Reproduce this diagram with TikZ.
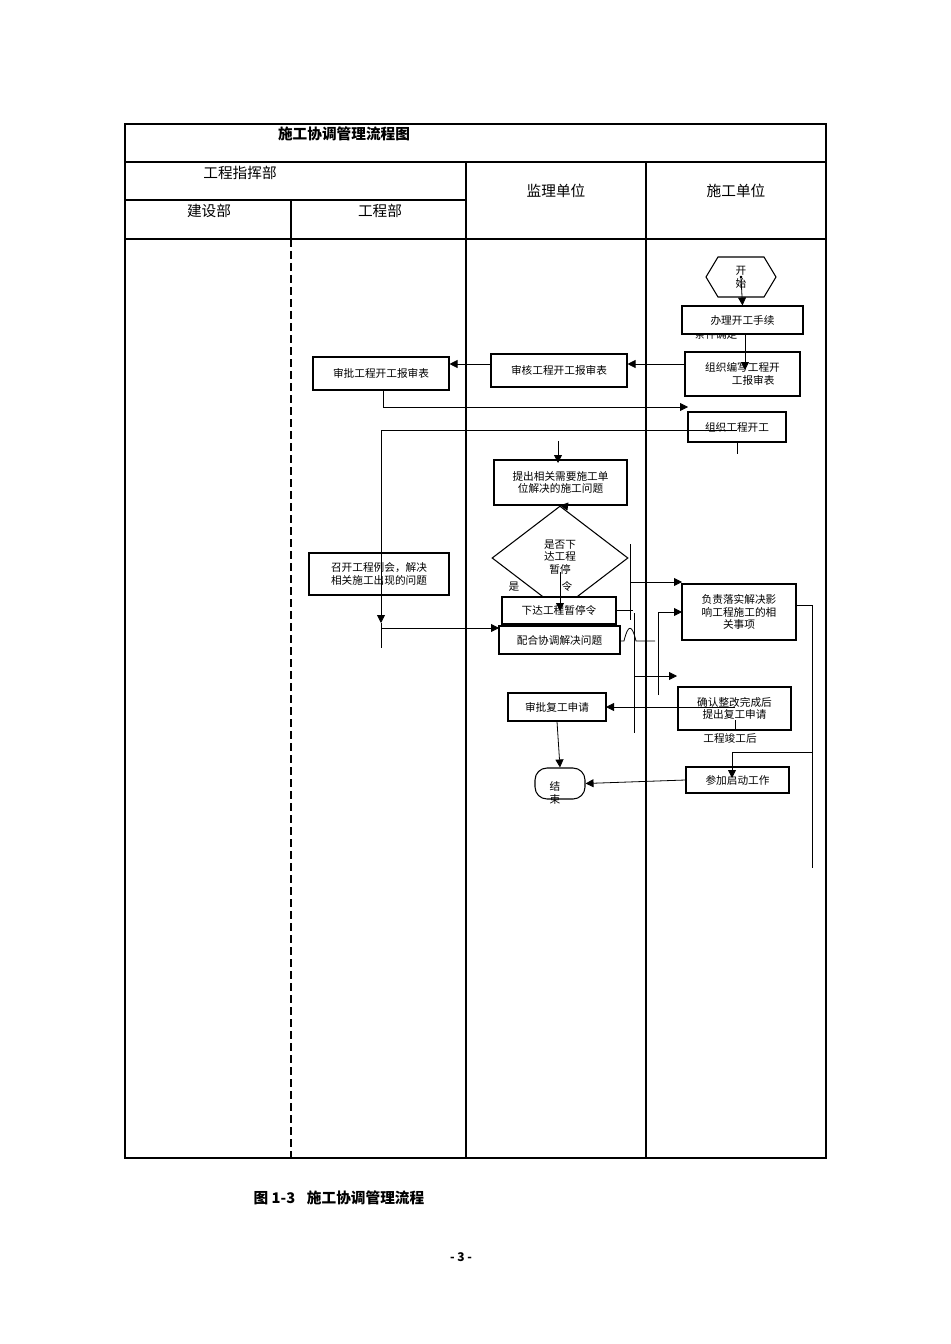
\documentclass[tikz,border=0pt]{standalone}
\usepackage{fontspec}
\setmainfont{Noto Sans CJK SC}
\usetikzlibrary{shapes.geometric,arrows.meta}
\begin{document}
\begin{tikzpicture}[x=0.75pt,y=-0.75pt,
  box/.style={draw,thick,fill=white,inner sep=0pt,font=\fontsize{8}{9.5}\selectfont,align=center},
  lab/.style={font=\fontsize{8}{9.5}\selectfont,inner sep=0pt},
  hdr/.style={font=\fontsize{11}{13}\selectfont,inner sep=0pt},
  ar/.style={-{Triangle[length=6pt,width=6pt]}},
  ln/.style={line width=0.6pt}]
\useasboundingbox (0,0) rectangle (950,1344);
% table
\draw[line width=1.4pt] (125,124) rectangle (826,1158);
\draw[line width=1.2pt] (125,162) -- (826,162);
\draw[line width=1.2pt] (125,200) -- (466,200);
\draw[line width=1.2pt] (125,239) -- (826,239);
\draw[line width=1.2pt] (466,162) -- (466,1158);
\draw[line width=1.2pt] (646,162) -- (646,1158);
\draw[line width=1.2pt] (291,200) -- (291,239);
\draw[line width=1.2pt,dash pattern=on 6pt off 3pt] (291,239) -- (291,1158);
\node[hdr,font=\fontsize{11}{13}\selectfont\bfseries] (title) at (344,134) {施工协调管理流程图};
\node[hdr] (h1) at (240,173) {工程指挥部};
\node[hdr] (h2) at (209,211) {建设部};
\node[hdr] (h3) at (380,211) {工程部};
\node[hdr] (h4) at (556,191) {监理单位};
\node[hdr] (h5) at (736,191) {施工单位};
% nodes
\node[lab] (cond) at (716,334) {条件确定};
\node[draw,thick,regular polygon,regular polygon sides=6,shape border rotate=0,minimum width=0pt,inner sep=0pt,
  font=\fontsize{8}{9.5}\selectfont,align=center, shape aspect=1] (start) at (741,277) {};
\draw[thick] (706,277) -- (718,257) -- (764,257) -- (776,277) -- (764,297) -- (718,297) -- cycle;
\node[lab,align=center] (starttxt) at (741,277) {开\\始};
\node[box,minimum width=121*0.75pt,minimum height=28*0.75pt] (a1) at (742.5,320) {办理开工手续};
\node[box,minimum width=115*0.75pt,minimum height=44*0.75pt] (a2) at (742.5,374) {组织编写工程开\\\hspace*{2em}工报审表};
\node[box,minimum width=136*0.75pt,minimum height=33*0.75pt] (b1) at (559,370.5) {审核工程开工报审表};
\node[box,minimum width=136*0.75pt,minimum height=33*0.75pt] (c1) at (381,373.5) {审批工程开工报审表};
\node[box,minimum width=98*0.75pt,minimum height=30*0.75pt] (a3) at (737,427) {组织工程开工};
\node[box,minimum width=133*0.75pt,minimum height=45*0.75pt] (b2) at (560.5,482.5) {提出相关需要施工单\\位解决的施工问题};
\node[draw,thick,diamond,minimum width=136*0.75pt,minimum height=104*0.75pt,inner sep=0pt,aspect=1.3] (d) at (560,558) {};
\node[lab,align=center] (dt) at (560,557) {是否下\\达工程\\暂停};
\node[lab] (dl) at (567,586) {令};
\node[lab] (yes) at (514,587) {是};
\node[box,minimum width=114*0.75pt,minimum height=27*0.75pt] (b3) at (559,610.5) {下达工程暂停令};
\node[box,minimum width=121*0.75pt,minimum height=28*0.75pt] (b4) at (559.5,640) {配合协调解决问题};
\node[box,minimum width=140*0.75pt,minimum height=42*0.75pt] (c2) at (379,574) {召开工程例会，解决\\相关施工出现的问题};
\node[box,minimum width=114*0.75pt,minimum height=56*0.75pt] (a4) at (739,612) {负责落实解决影\\响工程施工的相\\关事项};
\node[box,minimum width=113*0.75pt,minimum height=43*0.75pt] (a5) at (734.5,708.5) {确认整改完成后\\提出复工申请};
\node[box,minimum width=98*0.75pt,minimum height=28*0.75pt] (b5) at (557,707) {审批复工申请};
\node[lab] (done) at (730,738) {工程竣工后};
\node[box,minimum width=103*0.75pt,minimum height=26*0.75pt] (a6) at (737.5,780) {参加启动工作};
\node[draw,thick,rounded corners=9pt,minimum width=50*0.75pt,minimum height=31*0.75pt,inner sep=0pt] (end) at (560,783.5) {};
\node[lab,align=center] (endt) at (555,793) {结\\束};
% connectors
\draw[ln,ar] (start.south) -- (a1.north);
\draw[ln,ar] (745,334) -- (745,370);
\draw[ln,ar] (a2.west |- 0,364) -- (b1.east |- 0,364);
\draw[ln,ar] (b1.west |- 0,364) -- (c1.east |- 0,364);
\draw[ln,ar] (383,390) -- (383,407) -- (688,407);
\draw[ln,ar] (737,430) -- (381,430) -- (381,623);
\draw[ln] (381,623) -- (381,648);
\draw[ln] (a3.south) -- (737,454);
\draw[ln,ar] (558,441) -- (558,463);
\draw[ln,ar] (b2.south) -- (d.north);
\draw[ln,ar] (560,572) -- (560,611);
\draw[ln,ar] (381,628) -- (499,628);
\draw[ln] (630,544) -- (630,620);
\draw[ln,ar] (630,582) -- (682,582);
\draw[ln] (b3.east |- 0,610) -- (633,610);
\draw[ln] (634,613) -- (634,733);
\draw[ln] (620,641) -- (624,641) .. controls (628,624) and (632,624) .. (636,641) -- (655,641);
\draw[ln,ar] (658,695) -- (658,612) -- (682,612);
\draw[ln,ar] (634,676) -- (677,676);
\draw[ln,ar] (735,707) -- (606,707);
\draw[ln] (735,720) -- (735,730);
\draw[ln,ar] (b5.south) -- (end.north);
\draw[ln,ar] (a6.west) -- (end.east);
\draw[ln] (a4.east |- 0,605) -- (812,605) -- (812,868);
\draw[ln,ar] (812,752) -- (732,752) -- (732,778);
% caption
\node[font=\fontsize{11}{13}\selectfont\bfseries,inner sep=0pt] (cap) at (339,1198) {图 1-3\hspace{0.8em}施工协调管理流程};
\node[font=\fontsize{9}{11}\selectfont\bfseries,inner sep=0pt] (pg) at (461,1257) {- 3 -};
\end{tikzpicture}
\end{document}
